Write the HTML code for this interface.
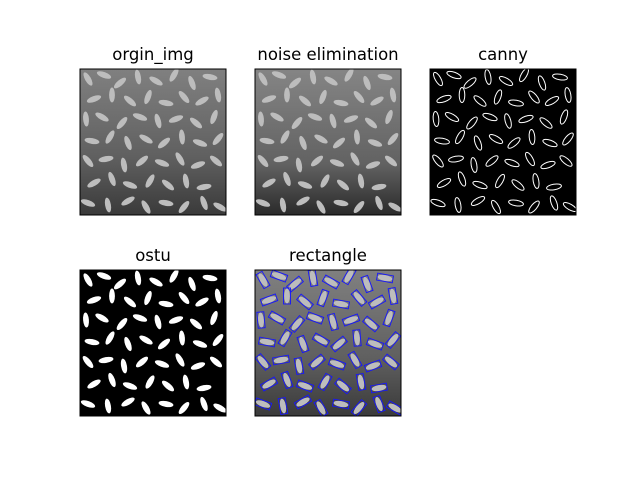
<!DOCTYPE html>
<html><head><meta charset="utf-8"><style>
body{margin:0;background:#fff;width:640px;height:480px;overflow:hidden;font-family:"DejaVu Sans",sans-serif}
</style></head><body>
<svg id="fig" width="640" height="480" xmlns="http://www.w3.org/2000/svg">
<defs>
<linearGradient id="g1" x1="0" y1="0" x2="0" y2="1"><stop offset="0" stop-color="#808080"/><stop offset="0.6" stop-color="#606060"/><stop offset="1" stop-color="#3a3a3a"/></linearGradient>
<linearGradient id="g2" x1="0" y1="0" x2="0" y2="1"><stop offset="0" stop-color="#858585"/><stop offset="0.65" stop-color="#626262"/><stop offset="1" stop-color="#2a2a2a"/></linearGradient>
<clipPath id="clip"><rect x="0" y="0" width="146" height="146"/></clipPath>
</defs>
</svg>
<script>
const titles=["orgin_img","noise elimination","canny","ostu","rectangle"];
const panelX=[80,255,430,80,255];
const panelY=[69,69,69,270,270];
const grains=[[8,10,60],[24,6,20],[40,14,-40],[58,8,80],[76,12,30],[94,6,-60],[112,14,70],[130,8,10],
[14,30,-20],[32,26,90],[50,32,40],[68,28,-70],[86,34,10],[104,28,50],[122,32,-30],[138,26,80],
[6,50,85],[22,48,30],[42,54,-50],[60,48,20],[78,52,75],[96,50,-20],[116,54,40],[134,48,-70],
[12,72,10],[30,68,-60],[48,74,70],[66,70,30],[84,74,-40],[102,68,85],[120,74,20],[138,70,-50],
[8,92,50],[26,90,-10],[44,96,80],[62,92,-40],[82,94,20],[100,90,60],[118,96,-20],[136,92,40],
[14,114,-30],[32,110,70],[50,116,20],[70,112,-60],[88,116,40],[106,112,80],[124,118,-10],
[8,134,20],[28,136,80],[48,132,-30],[66,138,60],[86,134,10],[104,138,-50],[124,134,70],[140,138,30]];
const svg=document.getElementById('fig');const NS="http://www.w3.org/2000/svg";
function mk(t,a,p){const e=document.createElementNS(NS,t);for(const k in a)e.setAttribute(k,a[k]);(p||svg).appendChild(e);return e;}
titles.forEach((t,i)=>{
 const x=panelX[i],y=panelY[i];
 const g=mk('g',{transform:`translate(${x},${y})`});
 
 
 const inner=mk('g',{'clip-path':'url(#clip)'},g);
 const dark=(i==2||i==3);
 mk('rect',{x:0,y:0,width:146,height:146,fill:dark?'#000':(i==1?'url(#g2)':'url(#g1)')},inner);
 grains.forEach(gr=>{
  const tr=`translate(${gr[0]},${gr[1]}) rotate(${gr[2]})`;
  if(i==2) mk('ellipse',{cx:0,cy:0,rx:7.5,ry:2.8,fill:'none',stroke:'#fff','stroke-width':1,transform:tr},inner);
  else mk('ellipse',{cx:0,cy:0,rx:7.5,ry:2.9,fill:i==3?'#fff':'#bdbdbd',transform:tr},inner);
  if(i==4) mk('rect',{x:-8,y:-3.5,width:16,height:7,fill:'none',stroke:'#1515ff','stroke-width':0.9,transform:tr},inner);
 });
 mk('rect',{x:0,y:0,width:146,height:146,fill:'none',stroke:'#000','stroke-width':1},g);
 const tx=mk('text',{x:x+73,y:y-9,'text-anchor':'middle','font-size':16.5,fill:'#000'});
 tx.textContent=t;
 
 
});
</script>
</body></html>
